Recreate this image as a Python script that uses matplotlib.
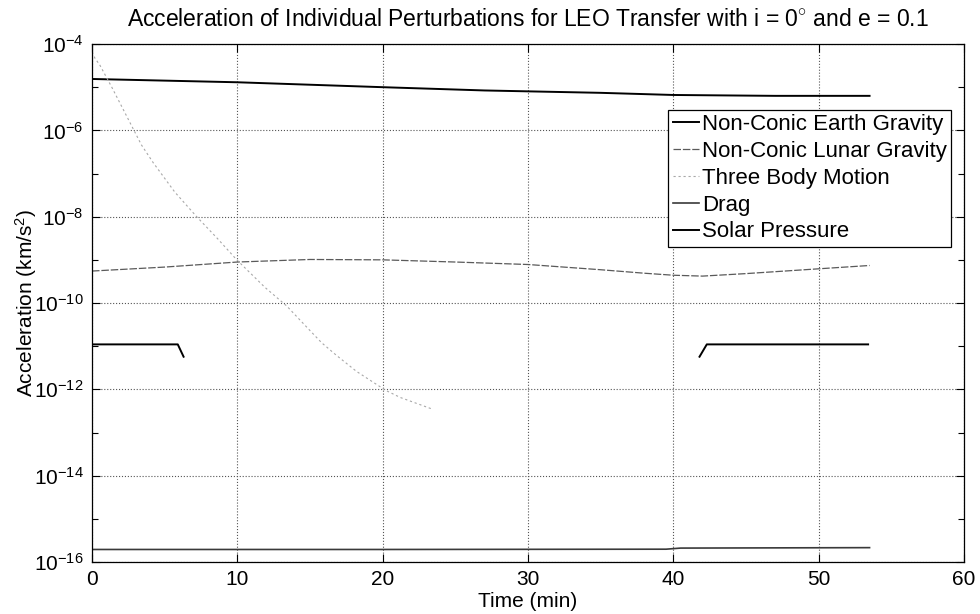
import numpy as np
import matplotlib
matplotlib.use("Agg")
import matplotlib.pyplot as plt
from matplotlib.ticker import FixedLocator, NullFormatter

plt.rcParams['font.family'] = ['Liberation Sans', 'DejaVu Sans']
plt.rcParams['mathtext.fontset'] = 'custom'
plt.rcParams['mathtext.rm'] = 'Liberation Sans'
plt.rcParams['mathtext.it'] = 'Liberation Sans'
plt.rcParams['mathtext.bf'] = 'Liberation Sans:bold'

# ---- data (time in minutes, acceleration in km/s^2) ----
t_earth = [0, 10, 20, 27, 35, 40, 47, 53.5]
a_earth = [1.55e-5, 1.30e-5, 1.0e-5, 8.4e-6, 7.4e-6, 6.6e-6, 6.3e-6, 6.3e-6]

t_lunar = [0, 5, 10, 15, 20, 25, 30, 35, 38, 40, 42, 45, 50, 53.5]
a_lunar = [5.5e-10, 6.8e-10, 8.9e-10, 1.02e-9, 1.0e-9, 8.9e-10, 7.8e-10,
           5.9e-10, 4.9e-10, 4.4e-10, 4.2e-10, 4.8e-10, 6.2e-10, 7.4e-10]

t_three = [0, 0.2, 0.55, 1.36, 3.4, 4.2, 5.7, 7.2, 8.6, 9.96, 11.9, 13.4,
           14.8, 15.8, 16.8, 18.2, 20.2, 21.2, 23.4]
a_three = [6.5e-5, 4.7e-5, 3.2e-5, 1.0e-5, 4.6e-7, 1.8e-7, 3.7e-8, 1.0e-8,
           3.2e-9, 1.0e-9, 2.3e-10, 8.5e-11, 2.7e-11, 1.2e-11, 6.2e-12,
           2.6e-12, 9.5e-13, 6.5e-13, 3.5e-13]

t_drag = [0, 20, 39.5, 40.5, 53.5]
a_drag = [1.95e-16, 1.95e-16, 1.98e-16, 2.1e-16, 2.15e-16]

t_solar = [0, 5.9, 6.3, np.nan, 41.8, 42.3, 53.4]
a_solar = [1.1e-11, 1.1e-11, 5.7e-12, np.nan, 5.7e-12, 1.1e-11, 1.1e-11]

labels = ['Non-Conic Earth Gravity', 'Non-Conic Lunar Gravity',
          'Three Body Motion', 'Drag', 'Solar Pressure']

x_ticks = [0, 10, 20, 30, 40, 50, 60]
y_ticks = [1e-16, 1e-14, 1e-12, 1e-10, 1e-8, 1e-6, 1e-4]

fig = plt.figure(figsize=(9.8, 6.14), dpi=100)
ax = fig.add_axes([0.0939, 0.0847, 0.8898, 0.8436])

ax.plot(t_earth, a_earth, color='black', lw=1.4, label=labels[0])
ax.plot(t_lunar, a_lunar, color='#5a5a5a', lw=0.9, ls=(0, (6, 1.5)), label=labels[1])
ax.plot(t_three, a_three, color='#a8a8a8', lw=0.8, ls=(0, (2, 2.5)), label=labels[2])
ax.plot(t_drag, a_drag, color='#3a3a3a', lw=1.2, label=labels[3])
ax.plot(t_solar, a_solar, color='black', lw=1.4, label=labels[4])

ax.set_yscale('log')
ax.set_xlim(0, 60)
ax.set_ylim(1e-16, 1e-4)
ax.xaxis.set_major_locator(FixedLocator(x_ticks))
ax.yaxis.set_major_locator(FixedLocator(y_ticks))
ax.yaxis.set_minor_locator(FixedLocator([1e-15, 1e-13, 1e-11, 1e-9, 1e-7, 1e-5]))
ax.yaxis.set_minor_formatter(NullFormatter())
ax.tick_params(which='both', direction='in', top=True, right=True,
               labelsize=15, length=6, width=0.8, colors='black', pad=6)
ax.tick_params(which='minor', length=4)
ax.grid(True, which='major', linestyle=':', color='#555555', lw=0.8)
for s in ax.spines.values():
    s.set_linewidth(0.9)
    s.set_color('black')

ax.set_title(r'Acceleration of Individual Perturbations for LEO Transfer with i = 0$^{\circ}$ and e = 0.1',
             fontsize=16.5, pad=13)
ax.set_xlabel('Time (min)', fontsize=15, labelpad=2)
ax.set_ylabel(r'Acceleration (km/s$^2$)', fontsize=15)
ax.yaxis.set_label_coords(-0.061, 0.5)

leg = ax.legend(loc='upper right', bbox_to_anchor=(0.985, 0.873), fontsize=16,
                frameon=True, fancybox=False, edgecolor='black', framealpha=1,
                handlelength=1.2, handletextpad=0.1, labelspacing=0.26,
                borderpad=0.2, borderaxespad=0)
leg.get_frame().set_linewidth(0.9)

fig.savefig('out.png', dpi=100)
